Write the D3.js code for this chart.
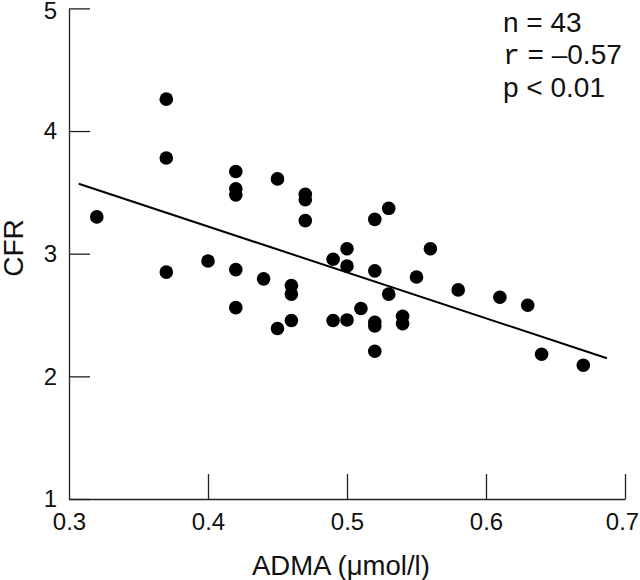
<!DOCTYPE html>
<html>
<head>
<meta charset="utf-8">
<script src="https://cdn.jsdelivr.net/npm/d3@7"></script>
<style>
  html, body { margin: 0; padding: 0; background: #fff; }
  svg { display: block; }
  text { font-family: "Liberation Sans", Arial, Helvetica, sans-serif; fill: #111; }
</style>
</head>
<body>
<svg id="chart" width="640" height="580"></svg>
<script>
// ADMA (µmol/l) vs CFR
const admaValues = [0.32,0.37,0.37,0.37,0.40,0.42,0.42,0.42,0.42,0.42,0.44,0.45,0.45,0.46,0.46,0.46,0.47,0.47,0.47,0.49,0.49,0.50,0.50,0.50,0.51,0.52,0.52,0.52,0.52,0.52,0.53,0.53,0.54,0.54,0.55,0.56,0.58,0.61,0.63,0.64,0.67];
const cfrValues  = [3.30,4.26,3.78,2.85,2.94,3.67,3.53,3.48,2.87,2.56,2.795,3.61,2.39,2.74,2.67,2.455,3.485,3.44,3.27,2.955,2.455,3.04,2.90,2.46,2.553,3.28,2.86,2.44,2.41,2.205,3.37,2.67,2.49,2.43,2.81,3.04,2.705,2.645,2.58,2.18,2.09];
// Regression line end points
const fitX = [0.307, 0.687];
const fitY = [3.57, 2.148];
const xTicks = [0.3, 0.4, 0.5, 0.6, 0.7];
const yTicks = [1, 2, 3, 4, 5];
const xTitle = "ADMA (\u03bcmol/l)";
const yTitle = "CFR";
const statLines = [["n", " = 43"], ["r", " = \u20130.57"], ["p", " < 0.01"]];

const svg = d3.select("#chart");
const x = d3.scaleLinear().domain([0.3, 0.7]).range([69, 625]);
const y = d3.scaleLinear().domain([1, 5]).range([499, 8.4]);
const labelFont = '"Liberation Sans", Arial, sans-serif';

// Y axis
const yAxis = d3.axisLeft(y).tickValues(yTicks).tickFormat(d3.format("d"))
  .tickSizeInner(-21).tickSizeOuter(0).tickPadding(12);
const gy = svg.append("g").attr("transform", `translate(${x(0.3)},0)`).call(yAxis);
gy.selectAll("text").style("font-size", "24px").attr("fill", "#111").style("font-family", labelFont);
gy.selectAll(".tick").filter(d => d === 5).select("text").attr("dy", "0.42em");
gy.selectAll("line, path").attr("stroke", "#222").attr("stroke-width", 1.3);

// X axis
const xAxis = d3.axisBottom(x).tickValues(xTicks).tickFormat(d3.format(".1f"))
  .tickSizeInner(-25).tickSizeOuter(0).tickPadding(14);
const gx = svg.append("g").attr("transform", `translate(0,${y(1)})`).call(xAxis);
gx.selectAll("text").style("font-size", "24px").attr("fill", "#111").style("font-family", labelFont);
gx.selectAll(".tick").filter(d => d === 0.7).select("text").attr("dx", "-3");
gx.selectAll("line, path").attr("stroke", "#222").attr("stroke-width", 1.3);
gx.selectAll(".tick").filter(d => d === 0.3).select("line").remove();

// Axis titles
svg.append("text").attr("x", 252).attr("y", 575).attr("text-anchor", "start")
  .style("font-size", "27.5px").text(xTitle);
svg.append("text").attr("transform", "translate(23,248) rotate(-90)")
  .attr("text-anchor", "middle").style("font-size", "28px").text(yTitle);

// Regression line
const line = d3.line().x(d => x(d[0])).y(d => y(d[1]));
svg.append("path").datum(d3.zip(fitX, fitY)).attr("d", line)
  .attr("fill", "none").attr("stroke", "#000").attr("stroke-width", 2);

// Points
svg.append("g").selectAll("circle").data(d3.zip(admaValues, cfrValues)).join("circle")
  .attr("cx", d => x(d[0])).attr("cy", d => y(d[1])).attr("r", 6.8).attr("fill", "#000");

// Stats text
const st = svg.append("g");
statLines.forEach((s, i) => {
  const t = st.append("text").attr("x", 503).attr("y", 31.7 + i * 32.5).style("font-size", "28px");
  t.append("tspan").text(s[0])
    .style("font-family", s[0] === "r" ? '"Liberation Mono", "DejaVu Sans Mono", monospace' : null);
  t.append("tspan").text(s[1]);
});
</script>
</body>
</html>
